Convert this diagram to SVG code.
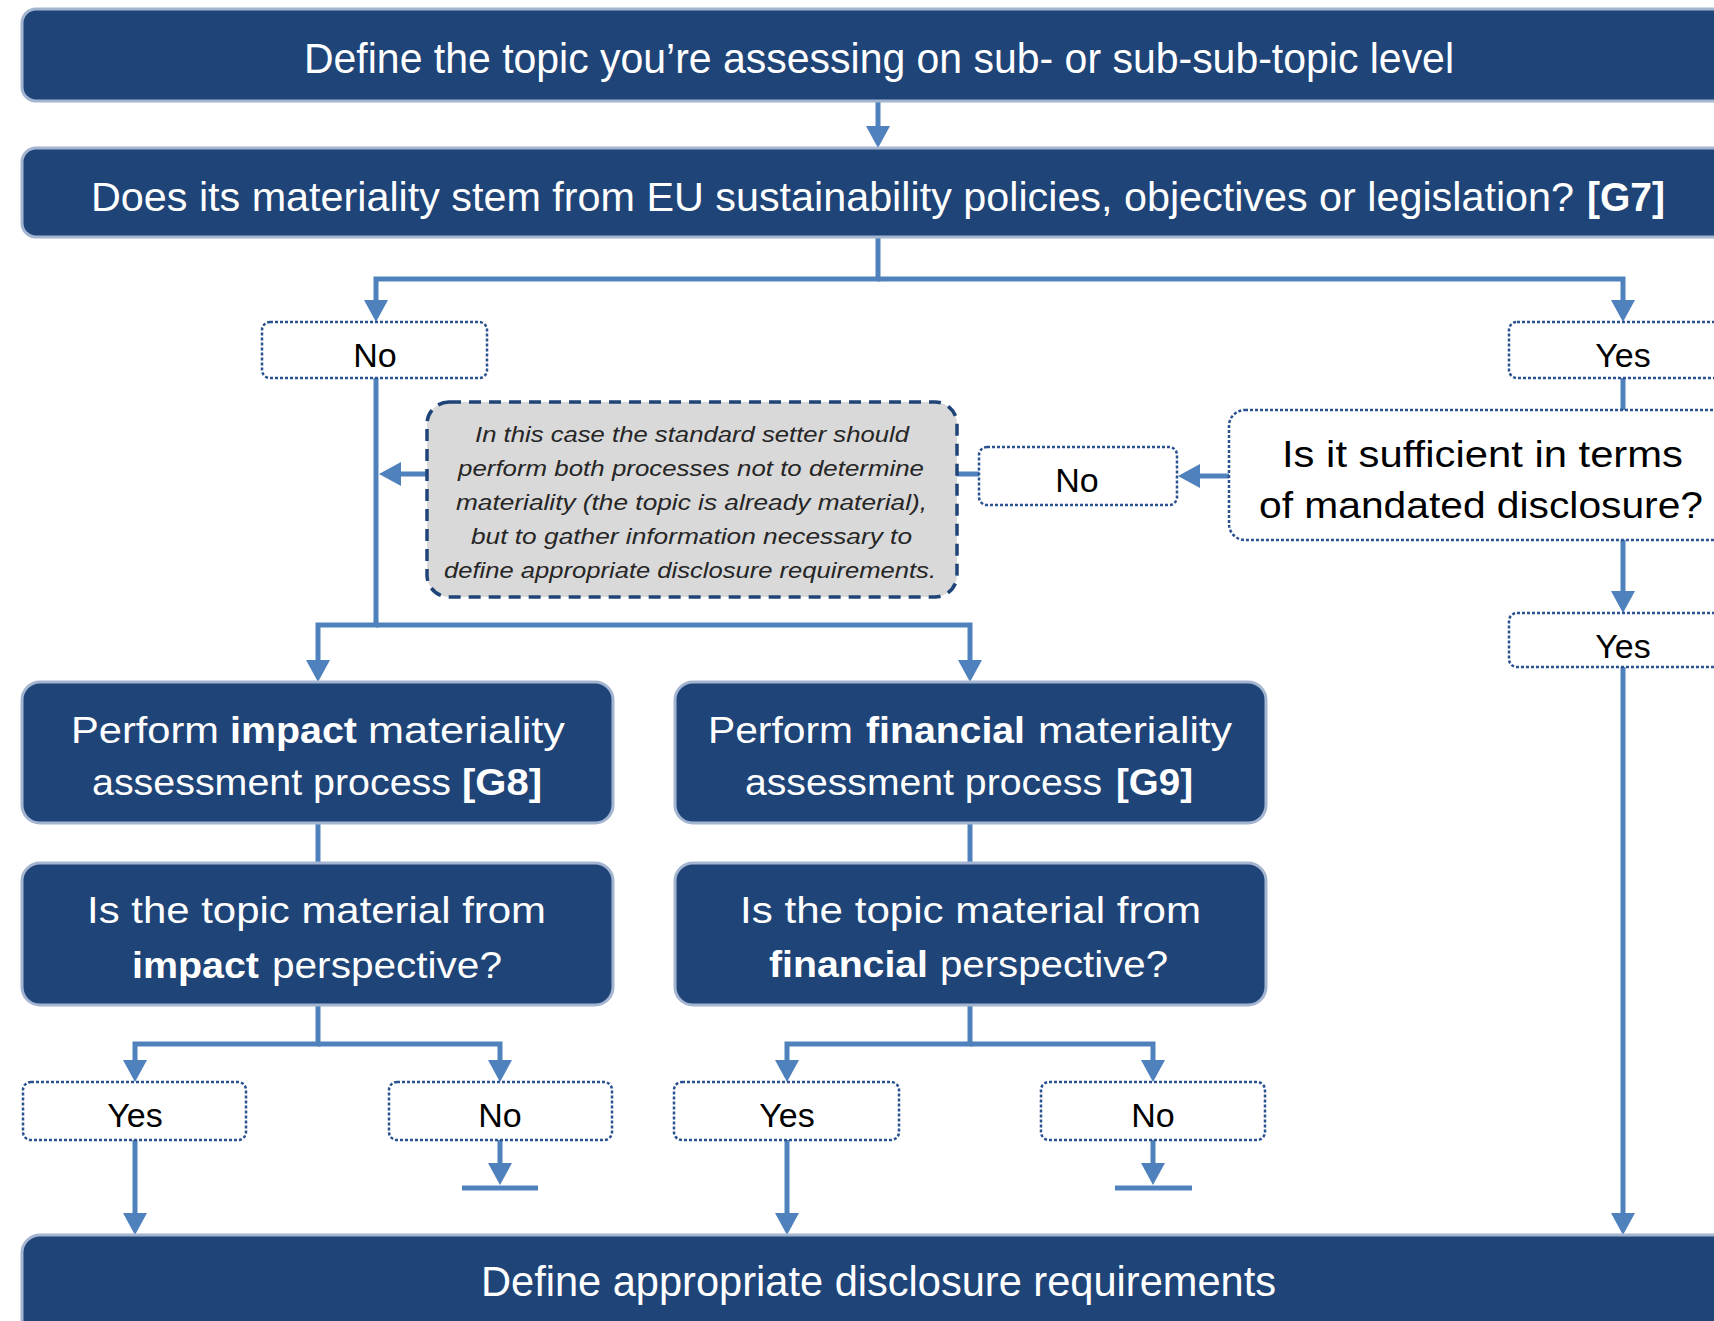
<svg xmlns="http://www.w3.org/2000/svg" width="1714" height="1321" viewBox="0 0 1714 1321">
<defs>
<style>
.main{fill:#1f4478;stroke:#a3b5d1;stroke-width:3}
.lbl{fill:#ffffff;stroke:#2a5291;stroke-width:2.5;stroke-dasharray:3 2}
.note{fill:#d9d9d9;stroke:#1f4478;stroke-width:3.5;stroke-dasharray:12 8}
.wt{font-family:"Liberation Sans",Arial,sans-serif;fill:#ffffff}
.kt{font-family:"Liberation Sans",Arial,sans-serif;fill:#000000;font-size:37px}
.bt{font-family:"Liberation Sans",Arial,sans-serif;fill:#000000;font-size:34px;text-anchor:middle}
.nt{font-family:"Liberation Sans",Arial,sans-serif;fill:#262626;font-size:22px;font-style:italic}
.b{font-weight:bold}
.c{fill:none;stroke:#4f81bd;stroke-width:5}
.ca{fill:none;stroke:#4f81bd;stroke-width:5;marker-end:url(#ah)}
</style>
<marker id="ah" viewBox="0 0 22 24" refX="2" refY="12" markerWidth="22" markerHeight="24" markerUnits="userSpaceOnUse" orient="auto">
<path d="M0,0 L22,12 L0,24 z" fill="#4f81bd"/>
</marker>
</defs>
<rect width="1714" height="1321" fill="#ffffff"/>
<g id="connectors">
<path class="ca" d="M878,101 V128"/>
<path class="ca" d="M878,237 V279 H376 V302"/>
<path class="ca" d="M878,279 H1623 V302"/>
<path class="c" d="M1623,377 V410"/>
<path class="ca" d="M1229,476 H1198"/>
<path class="ca" d="M979,474 H399"/>
<path class="ca" d="M376,378 V625 H318 V662"/>
<path class="ca" d="M376,625 H970 V662"/>
<path class="ca" d="M1623,540 V593"/>
<path class="ca" d="M1623,667 V1215"/>
<path class="c" d="M318,823 V863"/>
<path class="c" d="M970,823 V863"/>
<path class="ca" d="M318,1005 V1044 H135 V1062"/>
<path class="ca" d="M318,1044 H500 V1062"/>
<path class="ca" d="M970,1005 V1044 H787 V1062"/>
<path class="ca" d="M970,1044 H1153 V1062"/>
<path class="ca" d="M135,1140 V1215"/>
<path class="ca" d="M787,1140 V1215"/>
<path class="ca" d="M500,1140 V1165"/>
<path class="c" d="M462,1188 H538"/>
<path class="ca" d="M1153,1140 V1165"/>
<path class="c" d="M1115,1188 H1192"/>
</g>
<g id="define-topic">
<rect class="main" x="22" y="9" width="1760" height="92" rx="14"/>
<text class="wt" x="304" y="73" font-size="42" textLength="1150" lengthAdjust="spacingAndGlyphs">Define the topic you’re assessing on sub- or sub-sub-topic level</text>
</g>
<g id="eu-policies">
<rect class="main" x="22" y="148" width="1760" height="89" rx="14"/>
<text class="wt" x="91" y="211" font-size="41" textLength="1483" lengthAdjust="spacingAndGlyphs">Does its materiality stem from EU sustainability policies, objectives or legislation?</text>
<text class="wt b" x="1587" y="211" font-size="41" textLength="78" lengthAdjust="spacingAndGlyphs">[G7]</text>
</g>
<g id="no-eu">
<rect class="lbl" x="262" y="322" width="225" height="56" rx="8"/>
<text class="bt" x="375" y="367">No</text>
</g>
<g id="yes-eu">
<rect class="lbl" x="1509" y="322" width="228" height="56" rx="8"/>
<text class="bt" x="1623" y="367">Yes</text>
</g>
<g id="sufficient">
<rect class="lbl" x="1229" y="410" width="520" height="130" rx="16"/>
<text class="kt" x="1282" y="467" textLength="401" lengthAdjust="spacingAndGlyphs">Is it sufficient in terms</text>
<text class="kt" x="1259" y="518" textLength="444" lengthAdjust="spacingAndGlyphs">of mandated disclosure?</text>
</g>
<g id="no-sufficient">
<rect class="lbl" x="979" y="447" width="198" height="58" rx="8"/>
<text class="bt" x="1077" y="492">No</text>
</g>
<g id="note">
<rect class="note" x="427" y="402" width="530" height="195" rx="22"/>
<text class="nt" x="475" y="442" textLength="434" lengthAdjust="spacingAndGlyphs">In this case the standard setter should</text>
<text class="nt" x="458" y="476" textLength="466" lengthAdjust="spacingAndGlyphs">perform both processes not to determine</text>
<text class="nt" x="456" y="510" textLength="471" lengthAdjust="spacingAndGlyphs">materiality (the topic is already material),</text>
<text class="nt" x="471" y="544" textLength="441" lengthAdjust="spacingAndGlyphs">but to gather information necessary to</text>
<text class="nt" x="444" y="578" textLength="492" lengthAdjust="spacingAndGlyphs">define appropriate disclosure requirements.</text>
</g>
<g id="yes-sufficient">
<rect class="lbl" x="1509" y="613" width="228" height="54" rx="8"/>
<text class="bt" x="1623" y="658">Yes</text>
</g>
<g id="impact-process">
<rect class="main" x="22" y="682" width="591" height="141" rx="18"/>
<text class="wt" x="71" y="743" font-size="37" textLength="148" lengthAdjust="spacingAndGlyphs">Perform</text>
<text class="wt b" x="230" y="743" font-size="37" textLength="127" lengthAdjust="spacingAndGlyphs">impact</text>
<text class="wt" x="368" y="743" font-size="37" textLength="197" lengthAdjust="spacingAndGlyphs">materiality</text>
<text class="wt" x="92" y="795" font-size="37" textLength="359" lengthAdjust="spacingAndGlyphs">assessment process</text>
<text class="wt b" x="462" y="795" font-size="37" textLength="80" lengthAdjust="spacingAndGlyphs">[G8]</text>
</g>
<g id="financial-process">
<rect class="main" x="675" y="682" width="591" height="141" rx="18"/>
<text class="wt" x="708" y="743" font-size="37" textLength="145" lengthAdjust="spacingAndGlyphs">Perform</text>
<text class="wt b" x="866" y="743" font-size="37" textLength="159" lengthAdjust="spacingAndGlyphs">financial</text>
<text class="wt" x="1038" y="743" font-size="37" textLength="194" lengthAdjust="spacingAndGlyphs">materiality</text>
<text class="wt" x="745" y="795" font-size="37" textLength="357" lengthAdjust="spacingAndGlyphs">assessment process</text>
<text class="wt b" x="1116" y="795" font-size="37" textLength="77" lengthAdjust="spacingAndGlyphs">[G9]</text>
</g>
<g id="impact-question">
<rect class="main" x="22" y="863" width="591" height="142" rx="18"/>
<text class="wt" x="87" y="923" font-size="37" textLength="459" lengthAdjust="spacingAndGlyphs">Is the topic material from</text>
<text class="wt b" x="132" y="978" font-size="37" textLength="127" lengthAdjust="spacingAndGlyphs">impact</text>
<text class="wt" x="272" y="978" font-size="37" textLength="230" lengthAdjust="spacingAndGlyphs">perspective?</text>
</g>
<g id="financial-question">
<rect class="main" x="675" y="863" width="591" height="142" rx="18"/>
<text class="wt" x="740" y="923" font-size="37" textLength="461" lengthAdjust="spacingAndGlyphs">Is the topic material from</text>
<text class="wt b" x="769" y="977" font-size="37" textLength="159" lengthAdjust="spacingAndGlyphs">financial</text>
<text class="wt" x="940" y="977" font-size="37" textLength="228" lengthAdjust="spacingAndGlyphs">perspective?</text>
</g>
<g id="yes-impact">
<rect class="lbl" x="23" y="1082" width="223" height="58" rx="8"/>
<text class="bt" x="135" y="1127">Yes</text>
</g>
<g id="no-impact">
<rect class="lbl" x="389" y="1082" width="223" height="58" rx="8"/>
<text class="bt" x="500" y="1127">No</text>
</g>
<g id="yes-financial">
<rect class="lbl" x="674" y="1082" width="225" height="58" rx="8"/>
<text class="bt" x="787" y="1127">Yes</text>
</g>
<g id="no-financial">
<rect class="lbl" x="1041" y="1082" width="224" height="58" rx="8"/>
<text class="bt" x="1153" y="1127">No</text>
</g>
<g id="define-requirements">
<rect class="main" x="22" y="1235" width="1760" height="130" rx="18"/>
<text class="wt" x="481" y="1296" font-size="42" textLength="795" lengthAdjust="spacingAndGlyphs">Define appropriate disclosure requirements</text>
</g>
</svg>
